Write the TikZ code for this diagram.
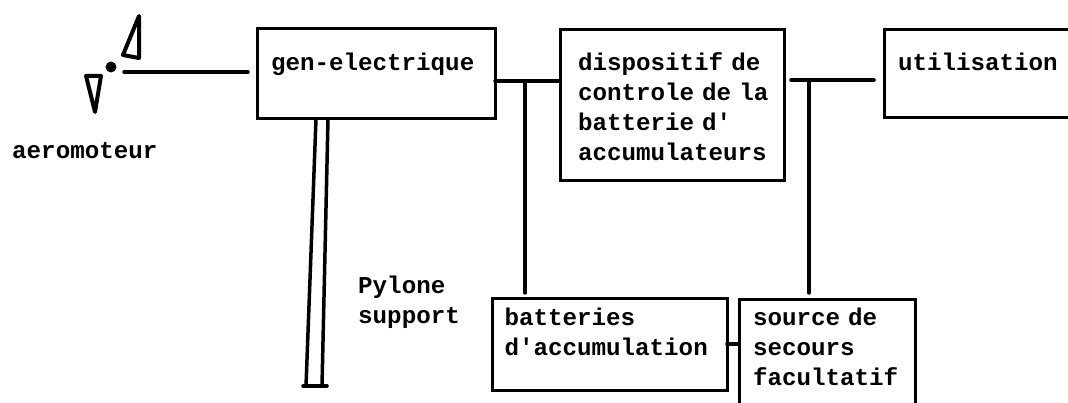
\documentclass[tikz,border=0pt]{standalone}
\usepackage{fontspec}
\setmonofont{Liberation Mono}
\usetikzlibrary{positioning,calc}
\tikzset{
  blockbox/.style={rectangle, draw=black, line width=3pt, outer sep=0pt, inner ysep=0pt, inner xsep=14pt,
                   align=left, font=\ttfamily\bfseries\fontsize{24.2}{30}\selectfont},
  freetext/.style={inner sep=0pt, align=left, anchor=base west,
                   font=\ttfamily\bfseries\fontsize{24.2}{30}\selectfont},
  link/.style={draw=black, line width=3.5pt, line cap=round},
  rotor/.style={draw=black, line width=4pt, line join=round, fill=white},
}
\begin{document}
\begin{tikzpicture}[x=1pt,y=1pt]
  \useasboundingbox (0,0) rectangle (1068,-403);
  % blocks
  \node[blockbox, anchor=north west, text width=210pt, text height=42pt, text depth=48pt]
    (gen) at (257,-29) {gen-electrique};
  \node[blockbox, right=65pt of gen.north east, anchor=north west, yshift=-1pt, inner xsep=18pt, text width=188pt, text height=41pt, text depth=110pt]
    (disp) {dispositif~de\\controle~de~la\\batterie~d'\\accumulateurs};
  \node[blockbox, right=100pt of disp.north east, anchor=north west, text width=190pt, text height=41pt, text depth=47pt]
    (util) {utilisation};
  \node[blockbox, anchor=north west, inner xsep=12.5pt, text width=210pt, text height=26pt, text depth=65pt]
    (batt) at (492,-299) {batteries\\d'accumulation};
  \node[blockbox, right=12pt of batt.north east, anchor=north west, yshift=-1pt, text width=148pt, text height=25pt, text depth=110pt]
    (src) {source~de\\secours\\facultatif};
  % rotor
  \node[circle, fill=black, inner sep=0pt, minimum size=11pt] (hub) at (111,-67) {};
  \draw[rotor] (139,-16) -- (123,-55) -- (139,-58) -- cycle;
  \draw[rotor] (95,-112) -- (86,-76) -- (101,-76) -- cycle;
  \coordinate (shaft) at (124,-72);
  \node[freetext] (aero) at (12,-159) {aeromoteur};
  \node[freetext, text width=110pt] (pyl) at (358,-294) {Pylone\\support};
  % connectors
  \coordinate (busa) at (525,-81);
  \coordinate (busb) at (809,-80);
  \coordinate (busc) at (791,-80);
  \coordinate (pyla) at (306,-386);
  \coordinate (pylb) at (322,-386);
  \coordinate (foota) at (303,-386);
  \coordinate (footb) at (327,-386);
  \draw[link, shorten >=9pt] (shaft) -- (shaft -| gen.west);
  \draw[link] (busa -| gen.east) -- (busa -| disp.west);
  \draw[link, shorten >=6pt] (busa) -- (busa |- batt.north);
  \draw[link, shorten >=10pt] (busc) -- (busc -| util.west);
  \draw[link, shorten >=7pt] (busb) -- (busb |- src.north);
  \draw[link] (batt.east |- 0,-344) -- (src.west |- 0,-344);
  \draw[link, line cap=butt] (gen.south -| 316,0) -- (pyla);
  \draw[link, line cap=butt] (gen.south -| 328,0) -- (pylb);
  \draw[link] (foota) -- (footb);
\end{tikzpicture}
\end{document}
